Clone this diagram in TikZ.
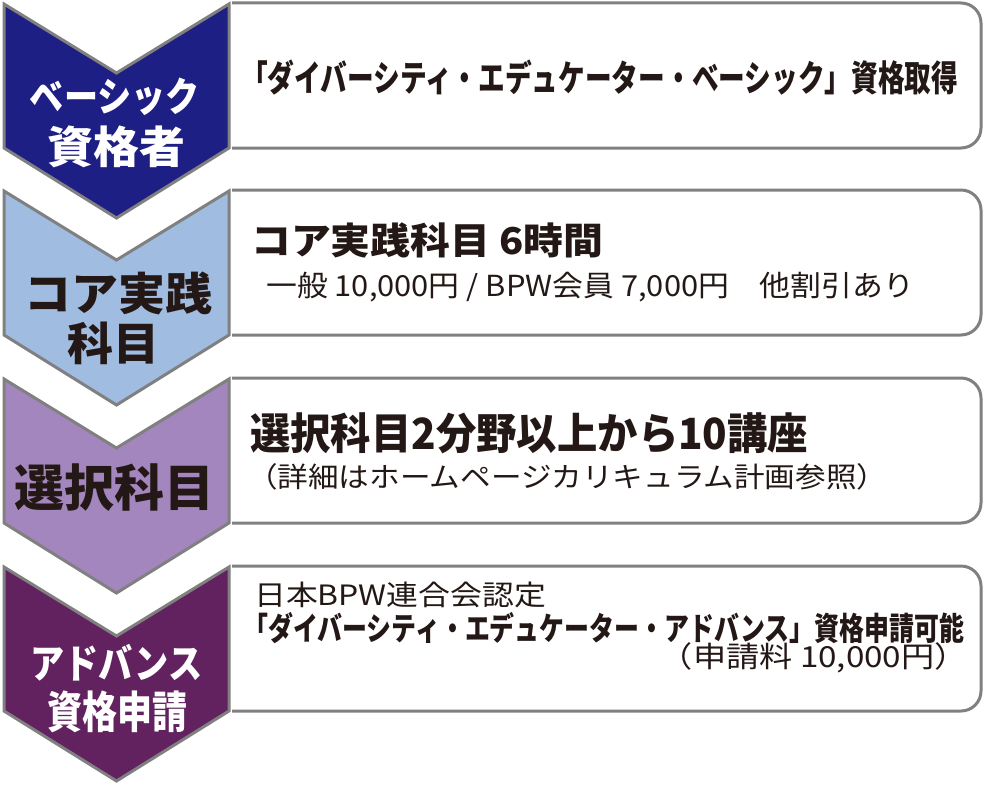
\documentclass[tikz,border=0pt]{standalone}
\usepackage{fontspec}
\usepackage{graphicx}
\newfontfamily\jp{Noto Sans CJK JP}
\newcommand\fitw[2]{\resizebox{#1}{\height}{#2}}
\newcommand\fsz[1]{\fontsize{#1}{#1}\selectfont}
\definecolor{edgegray}{HTML}{808080}
\definecolor{ink}{HTML}{231815}
\definecolor{navy}{HTML}{1E1F84}
\definecolor{lightblue}{HTML}{A0BCE0}
\definecolor{lilac}{HTML}{A386BD}
\definecolor{plum}{HTML}{62215F}
\begin{document}
\begin{tikzpicture}[x=1pt,y=-1pt,
  chev/.style={draw=edgegray, line width=3pt, line join=miter},
  box/.style={draw=edgegray, line width=3pt, rounded corners=20pt},
  ctext/.style={inner sep=0pt, font=\jp\bfseries},
  btext/.style={inner sep=0pt, anchor=west, text=ink, font=\jp}]
\useasboundingbox (0,0) rectangle (984,784);
% chevrons and boxes
\foreach \T/\col [count=\i] in {3/navy,190/lightblue,378/lilac,566/plum}{
  \draw[chev, fill=\col] (4,\T+1) -- (116.5,\T+70) -- (229,\T+1) -- (229,\T+145)
     -- (116.5,\T+215) -- (4,\T+145) -- cycle;
  \draw[box] (232,\T) -- (981,\T) -- (981,\T+145) -- (232,\T+145);
}
% chevron texts
\node[ctext, text=white] (c1a) at (115,97) {\fitw{170pt}{\fsz{40}ベーシック}};
\node[ctext, text=white] (c1b) at (116.5,147) {\fitw{138pt}{\fsz{44}資格者}};
\node[ctext, text=ink] (c2a) at (118.5,293) {\fitw{188pt}{\fsz{45}コア実践}};
\node[ctext, text=ink] (c2b) at (113,343) {\fitw{92pt}{\fsz{45}科目}};
\node[ctext, text=ink] (c3) at (114.5,488) {\fitw{200pt}{\fsz{50}選択科目}};
\node[ctext, text=white] (c4a) at (116.5,663) {\fitw{172pt}{\fsz{40}アドバンス}};
\node[ctext, text=white] (c4b) at (117.5,712) {\fitw{140pt}{\fsz{44}資格申請}};
% box texts
\node[btext, font=\jp\bfseries] (b1) at (241,78) {\fitw{717pt}{\fsz{36}「ダイバーシティ・エデュケーター・ベーシック」資格取得}};
\node[btext, font=\jp\bfseries] (b2a) at (251,240) {\fitw{352pt}{\fsz{37}コア実践科目 6時間}};
\node[btext] (b2b) at (266,287) {\fitw{648pt}{\fsz{29}一般 10,000円 / BPW会員 7,000円　他割引あり}};
\node[btext, font=\jp\bfseries] (b3a) at (250,433) {\fitw{558pt}{\fsz{43}選択科目2分野以上から10講座}};
\node[btext] (b3b) at (247,477) {\fitw{640pt}{\fsz{28}（詳細はホームページカリキュラム計画参照）}};
\node[btext] (b4a) at (254,595) {\fitw{292pt}{\fsz{28}日本BPW連合会認定}};
\node[btext, font=\jp\bfseries] (b4b) at (243,628) {\fitw{721pt}{\fsz{32}「ダイバーシティ・エデュケーター・アドバンス」資格申請可能}};
\node[btext, anchor=east] (b4c) at (968,658) {\fitw{308pt}{\fsz{29}（申請料 10,000円）}};
\end{tikzpicture}
\end{document}
